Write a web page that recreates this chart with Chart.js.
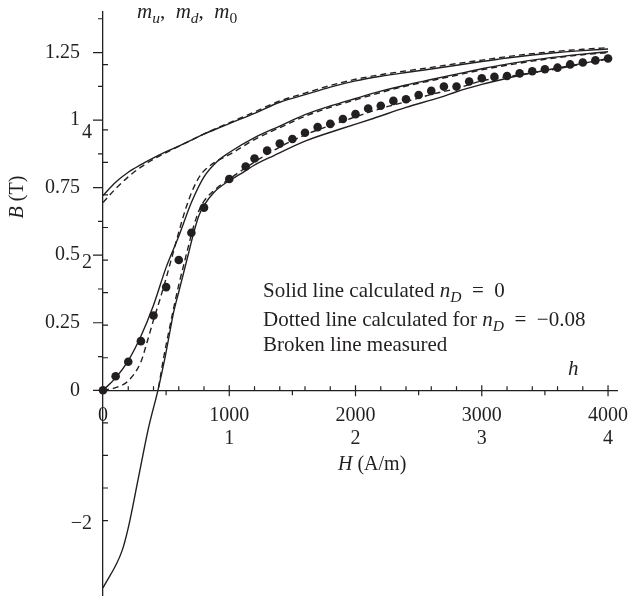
<!DOCTYPE html>
<html>
<head>
<meta charset="utf-8">
<title>B-H curves</title>
<script src="https://cdn.jsdelivr.net/npm/chart.js@4.4.1/dist/chart.umd.min.js"></script>
<style>
  html, body { margin: 0; padding: 0; background: #fff; }
  #wrap { position: relative; width: 628px; height: 600px; }
</style>
</head>
<body>
<div id="wrap"><canvas id="chart"></canvas></div>
<script>
  // H (A/m) and B (T) values

  // upper (descending) branch
  const upperH = [0, 100, 200, 300, 400, 500, 600, 700, 800, 900, 1000, 1200, 1400, 1600, 1800,
    2000, 2200, 2400, 2600, 2800, 3000, 3200, 3400, 3600, 3800, 4000];
  const upperCalc = [0.721, 0.770, 0.807, 0.835, 0.860, 0.883, 0.904, 0.926, 0.948, 0.968, 0.987,
    1.025, 1.066, 1.094, 1.122, 1.145, 1.162, 1.176, 1.189, 1.203, 1.217, 1.230, 1.241, 1.250, 1.257, 1.263];
  const upperMeas = [0.695, 0.746, 0.790, 0.826, 0.855, 0.880, 0.903, 0.926, 0.949, 0.970, 0.990,
    1.030, 1.071, 1.100, 1.128, 1.151, 1.168, 1.182, 1.195, 1.209, 1.222, 1.235, 1.246, 1.255, 1.262, 1.268];

  // curve starting at the origin
  const initH = [0, 100, 200, 300, 400, 500, 600, 700, 800, 900, 1000, 1200, 1400, 1600, 1800,
    2000, 2200, 2400, 2600, 2800, 3000, 3200, 3400, 3600, 3800, 4000];
  const initCalc = [0, 0.046, 0.110, 0.200, 0.315, 0.455, 0.570, 0.695, 0.790, 0.845, 0.880,
    0.935, 0.978, 1.020, 1.052, 1.080, 1.107, 1.130, 1.150, 1.170, 1.190, 1.207, 1.222, 1.234, 1.244, 1.253];
  const initMeasH = [0, 100, 200, 300, 350, 400, 450, 500, 550, 600, 650, 700, 750, 800, 900, 1000,
    1200, 1400, 1600, 1800, 2000, 2200, 2400, 2600, 2800, 3000, 3200, 3400, 3600, 3800, 4000];
  const initMeas = [0, 0.010, 0.035, 0.105, 0.180, 0.260, 0.335, 0.415, 0.500, 0.585, 0.665, 0.730,
    0.780, 0.812, 0.848, 0.872, 0.928, 0.972, 1.014, 1.047, 1.075, 1.102, 1.126, 1.146, 1.166,
    1.186, 1.203, 1.218, 1.231, 1.242, 1.250];

  // calculated points for n_D = -0.08
  const dotH = [0, 100, 200, 300, 400, 500, 600, 700, 800, 1000, 1130, 1200, 1300, 1400, 1500,
    1600, 1700, 1800, 1900, 2000, 2100, 2200, 2300, 2400, 2500, 2600, 2700, 2800, 2900, 3000,
    3100, 3200, 3300, 3400, 3500, 3600, 3700, 3800, 3900, 4000];
  const dotB = [0, 0.052, 0.106, 0.182, 0.277, 0.382, 0.482, 0.583, 0.676, 0.782, 0.828, 0.858,
    0.887, 0.913, 0.930, 0.953, 0.974, 0.986, 1.004, 1.022, 1.043, 1.053, 1.071, 1.077, 1.093,
    1.108, 1.124, 1.124, 1.143, 1.155, 1.160, 1.163, 1.173, 1.181, 1.188, 1.194, 1.206, 1.213,
    1.221, 1.228];

  // lower (ascending) branch
  const lowerH = [0, 150, 200, 280, 360, 435, 490, 530, 560, 600, 640, 680, 720, 760, 800, 880,
    980, 1090, 1190, 1350, 1610, 1880, 2140, 2400, 2670, 2800, 3000, 3200, 3400, 3600, 3800, 4000];
  const lowerCalc = [-0.731, -0.595, -0.509, -0.325, -0.140, 0, 0.118, 0.217, 0.290, 0.364, 0.438,
    0.512, 0.586, 0.647, 0.684, 0.733, 0.770, 0.801, 0.831, 0.868, 0.924, 0.967, 1.006, 1.047,
    1.084, 1.105, 1.132, 1.155, 1.175, 1.193, 1.210, 1.228];
  const lowerMeasH = [440, 480, 520, 560, 600, 640, 680, 720, 760, 800, 900, 1000, 1200, 1400,
    1600, 1800, 2000, 2200, 2400, 2600, 2800, 3000, 3200, 3400, 3600, 3800, 4000];
  const lowerMeas = [0.010, 0.120, 0.215, 0.305, 0.390, 0.465, 0.540, 0.610, 0.665, 0.700, 0.748,
    0.782, 0.845, 0.900, 0.945, 0.980, 1.012, 1.043, 1.068, 1.095, 1.117, 1.145, 1.160, 1.175,
    1.190, 1.208, 1.226];

  // axes
  const xTicks = [0, 1000, 2000, 3000, 4000];
  const xTickLabels = ["0", "1000", "2000", "3000", "4000"];
  const hTickLabels = ["", "1", "2", "3", "4"];
  const xMinorUp = [200, 400, 600, 800, 1200, 1400, 1600, 1800, 2200, 2400, 2600, 2800,
    3200, 3400, 3600, 3800];
  const xMinorDown = [500, 1500, 2500, 3500];
  const yTicks = [0, 0.25, 0.5, 0.75, 1, 1.25];
  const yTickLabels = ["0", "0.25", "0.5", "0.75", "1", "1.25"];
  const yMinor = [0.125, 0.375, 0.625, 0.875, 1.125, 1.375];
  const hTicks = [-2, 2, 4];
  const hTickText = ["\u22122", "2", "4"];
  const hMinor = [-1.5, -1, -0.5, 0.5, 1, 1.5, 2.5, 3, 3.5, 5];
  const bPerH = 0.241; // one unit of h in tesla on the left axis

  (function() {
    "use strict";

    const INK = "#231f20";
    const SERIF = "\"Liberation Serif\", \"DejaVu Serif\", serif";
    const SIZE = 20;

    function init() {
      new Chart(document.getElementById("chart"), buildConfig());
    }

    /**
     * Zip x and y arrays into {x, y} points.
     */
    function pairs(xs, ys) {
      return xs.map((x, i) => ({x: x, y: ys[i]}));
    }

    function lineSet(xs, ys, dashed) {
      return {
        data: pairs(xs, ys),
        borderColor: INK,
        borderWidth: 1.4,
        borderDash: dashed ? [6, 4] : [],
        pointRadius: 0,
        cubicInterpolationMode: "monotone",
        fill: false
      };
    }

    function fontFor(style, size) {
      let sub = style.startsWith("s");
      return (style.includes("i") ? "italic " : "") + (sub ? size * 0.74 : size) + "px " + SERIF;
    }

    /**
     * Write a run of text pieces, switching between upright, italic and subscript.
     * style: "" upright, "i" italic, "si" italic subscript, "s" upright subscript
     */
    function drawRich(ctx, parts, x, y, size) {
      size = size || SIZE;
      parts.forEach(([text, style]) => {
        ctx.font = fontFor(style, size);
        ctx.fillText(text, x, style.startsWith("s") ? y + size * 0.22 : y);
        x += ctx.measureText(text).width;
      });
    }

    function richWidth(ctx, parts, size) {
      size = size || SIZE;
      let w = 0;
      parts.forEach(([text, style]) => {
        ctx.font = fontFor(style, size);
        w += ctx.measureText(text).width;
      });
      return w;
    }

    // tick marks and the loose labels of the figure
    const decorations = {
      id: "decorations",
      afterDraw(chart) {
        const ctx = chart.ctx;
        const xs = chart.scales.x;
        const ys = chart.scales.y;
        const x0 = xs.getPixelForValue(0);
        const y0 = ys.getPixelForValue(0);

        ctx.save();
        ctx.strokeStyle = INK;
        ctx.lineWidth = 1.2;
        ctx.beginPath();
        yTicks.forEach(v => {
          let p = ys.getPixelForValue(v);
          ctx.moveTo(x0 - 10, p);
          ctx.lineTo(x0, p);
        });
        yMinor.forEach(v => {
          let p = ys.getPixelForValue(v);
          ctx.moveTo(x0 - 5, p);
          ctx.lineTo(x0, p);
        });
        hTicks.concat(hMinor).forEach(v => {
          let p = ys.getPixelForValue(v * bPerH);
          ctx.moveTo(x0, p);
          ctx.lineTo(x0 + 5, p);
        });
        xTicks.slice(1).forEach(v => {
          let p = xs.getPixelForValue(v);
          ctx.moveTo(p, y0 - 5);
          ctx.lineTo(p, y0 + 6);
        });
        xMinorUp.forEach(v => {
          let p = xs.getPixelForValue(v);
          ctx.moveTo(p, y0 - 4);
          ctx.lineTo(p, y0);
        });
        xMinorDown.forEach(v => {
          let p = xs.getPixelForValue(v);
          ctx.moveTo(p, y0);
          ctx.lineTo(p, y0 + 5);
        });
        ctx.stroke();

        ctx.fillStyle = INK;

        // secondary (h) labels on the left axis
        ctx.font = SIZE + "px " + SERIF;
        ctx.textAlign = "right";
        ctx.textBaseline = "middle";
        hTicks.forEach((v, i) => {
          ctx.fillText(hTickText[i], x0 - 11, ys.getPixelForValue(v * bPerH) + 3);
        });
        ctx.textAlign = "left";
        ctx.textBaseline = "alphabetic";

        drawRich(ctx, [["m", "i"], ["u", "si"], [",\u2002", ""], ["m", "i"], ["d", "si"], [",\u2002", ""],
          ["m", "i"], ["0", "s"]], 137, 18, 21);
        drawRich(ctx, [["Solid line calculated ", ""], ["n", "i"], ["D", "si"],
          ["\u2002=\u20020", ""]], 263, 297, 21);
        drawRich(ctx, [["Dotted line calculated for ", ""], ["n", "i"], ["D", "si"],
          ["\u2002=\u2002\u22120.08", ""]], 263, 326, 21);
        drawRich(ctx, [["Broken line measured", ""]], 263, 351, 21);
        drawRich(ctx, [["h", "i"]], 568, 375, 21);
        drawRich(ctx, [["H", "i"], [" (A/m)", ""]], 338, 470);

        // rotated y title
        let yTitle = [["B", "i"], [" (T)", ""]];
        ctx.translate(23, 197);
        ctx.rotate(-Math.PI / 2);
        drawRich(ctx, yTitle, -richWidth(ctx, yTitle) / 2, 0);
        ctx.restore();
      }
    };

    function buildConfig() {
      let dots = {
        data: pairs(dotH, dotB),
        showLine: false,
        pointRadius: 4.3,
        pointBackgroundColor: INK,
        pointBorderWidth: 0,
        clip: false
      };

      return {
        type: "line",
        data: {
          datasets: [
            lineSet(upperH, upperCalc, false),
            lineSet(upperH, upperMeas, true),
            lineSet(initH, initCalc, false),
            lineSet(initMeasH, initMeas, true),
            lineSet(lowerH, lowerCalc, false),
            lineSet(lowerMeasH, lowerMeas, true),
            dots
          ]
        },
        options: {
          responsive: true,
          maintainAspectRatio: false,
          devicePixelRatio: 1,
          animation: false,
          events: [],
          layout: {
            padding: {left: 0, right: 11, top: 12, bottom: 2}
          },
          plugins: {
            legend: {display: false},
            tooltip: {enabled: false}
          },
          scales: {
            x: {
              type: "linear",
              position: {y: 0},
              min: 0,
              max: 4071,
              afterBuildTicks: scale => {
                scale.ticks = xTicks.map(v => ({value: v}));
              },
              afterFit: scale => {
                // labels hang below the crossing axis, so take no layout room
                scale.height = 0;
                scale.paddingLeft = 0;
                scale.paddingRight = 0;
              },
              grid: {drawOnChartArea: false, drawTicks: false},
              border: {display: true, color: INK, width: 1.3},
              ticks: {
                autoSkip: false,
                maxRotation: 0,
                minRotation: 0,
                padding: 14,
                color: INK,
                font: {family: SERIF, size: SIZE, lineHeight: 1.15},
                callback: (value, index) => {
                  return hTickLabels[index] ? [xTickLabels[index], hTickLabels[index]] : xTickLabels[index];
                }
              }
            },
            y: {
              type: "linear",
              position: "left",
              min: -0.76,
              max: 1.40,
              afterBuildTicks: scale => {
                scale.ticks = yTicks.map(v => ({value: v}));
              },
              afterFit: scale => {
                scale.width = 103;
                scale.paddingTop = 0;
                scale.paddingBottom = 0;
              },
              grid: {drawOnChartArea: false, drawTicks: false},
              border: {display: true, color: INK, width: 1.3},
              ticks: {
                autoSkip: false,
                padding: 23,
                color: INK,
                font: {family: SERIF, size: SIZE},
                callback: (value, index) => yTickLabels[index]
              }
            }
          }
        },
        plugins: [decorations]
      };
    }

    init();
  })();
</script>
</body>
</html>
